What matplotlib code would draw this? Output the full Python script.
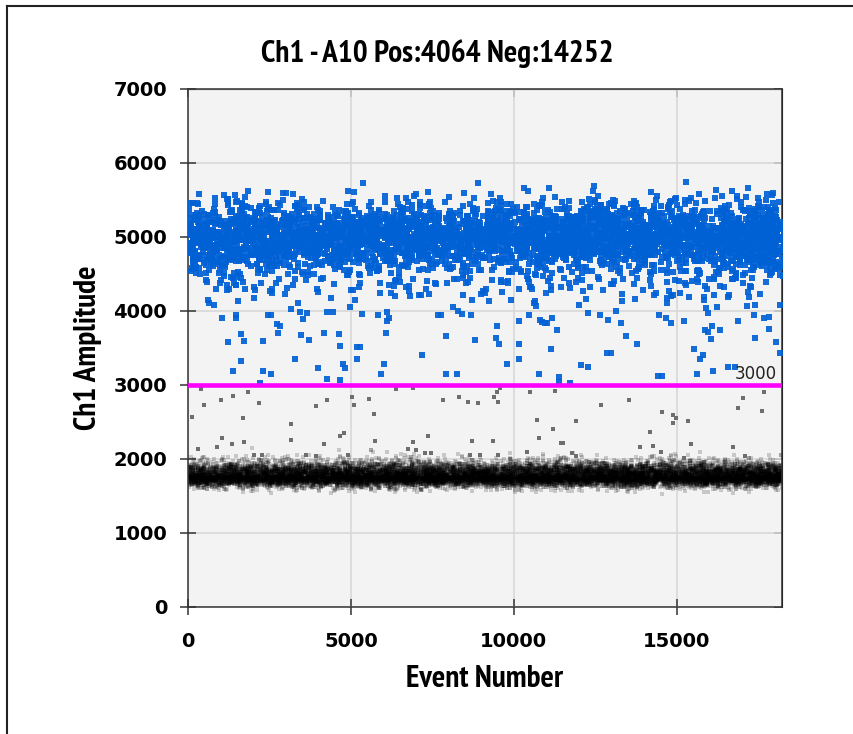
import numpy as np
import matplotlib
matplotlib.use('Agg')
import matplotlib.pyplot as plt
from matplotlib.lines import Line2D
from matplotlib import font_manager

title = 'Ch1 - A10 Pos:4064 Neg:14252'
n_pos = 4064
n_neg = 14252
threshold = 3000
n_events = n_pos + n_neg

x_ticks = [0, 5000, 10000, 15000]
y_ticks = [0, 1000, 2000, 3000, 4000, 5000, 6000, 7000]

# rain droplets
blue_rain_event = [1052, 1472, 1472, 2464, 2546, 3436, 3538, 3641, 4254, 4438, 5328, 5838,
                   6114, 6114, 6166, 7679, 7761, 8395, 8671, 2720, 2822, 2771, 1616, 1237,
                   1708, 2310, 3466, 3702, 4172, 4632, 4673, 5184, 5266, 6064, 7188, 7924,
                   8804, 1616, 3282, 5184, 6022, 4765, 4816, 1391, 2310, 2546, 3988, 5930,
                   7924, 8252, 2219, 4264, 4673,
                   10470, 12280, 12659, 14469, 14663, 14837, 15961, 17372, 17679, 17822,
                   9488, 10144, 10798, 10869, 10951, 11012, 11176, 11310, 12894, 13303,
                   15215, 15868, 15951, 16095, 16329, 16881, 17822, 9448, 9550, 10144,
                   11126, 13446, 13783, 15531, 16043, 17393, 18037, 18169, 9785, 10144,
                   12874, 12986, 15715, 15818, 12055, 12290, 16104, 16585, 16779, 10757,
                   11390, 11381, 11727, 14438, 14561, 15623]
blue_rain_amp = [3906, 3946, 3901, 3950, 3950, 3982, 3888, 3969, 3991, 3982, 3960, 3946,
                 3982, 3865, 3901, 3946, 3946, 3960, 3946, 3824, 3797, 3698, 3685, 3577,
                 3595, 3595, 3680, 3612, 3698, 3685, 3532, 3514, 3514, 3698, 3410, 3658,
                 3612, 3329, 3351, 3351, 3288, 3288, 3230, 3185, 3185, 3145, 3226, 3145,
                 3145, 3145, 3027, 3081, 3063,
                 3946, 3969, 3946, 3946, 3901, 3842, 3969, 3946, 3901, 3924,
                 3802, 3861, 3879, 3856, 3842, 3842, 3901, 3739, 3879, 3842,
                 3861, 3739, 3721, 3802, 3739, 3861, 3761, 3640, 3554, 3554,
                 3491, 3658, 3554, 3491, 3617, 3635, 3577, 3433, 3288, 3347,
                 3433, 3433, 3347, 3410, 3266, 3248, 3189, 3248, 3248, 3145,
                 3104, 3041, 3032, 3122, 3122, 3145]
grey_rain_event = [399, 501, 1012, 1391, 1851, 2178, 112, 1698, 3149, 3149, 1053, 1340,
                   1708, 879, 317, 3937, 4264, 4172, 4673, 4775, 5041, 5103, 5552, 5695,
                   5736, 6391, 6902, 7832, 8303, 8579, 8906, 7372, 6902, 6759, 6994, 7270,
                   7454, 8712, 8661, 8947, 2034, 2260, 3610, 3937, 4918,
                   9396, 9488, 9519, 9580, 10481, 11268, 12669, 13538, 14549, 14887, 14979,
                   14898, 15358, 17046, 16881, 17669, 17628, 10715, 11217, 11923, 9365,
                   10757, 11452, 11513, 14193, 14285, 13865, 15451, 9499, 10389, 11770,
                   11923, 14519, 15215, 16739, 17086]
grey_rain_amp = [2942, 2734, 2797, 2856, 2901, 2757, 2572, 2550, 2469, 2261, 2284, 2207,
                 2225, 2162, 2135, 2716, 2797, 2207, 2306, 2347, 2838, 2734, 2815, 2612,
                 2243, 2942, 2960, 2797, 2838, 2775, 2757, 2306, 2225, 2140, 2122, 2081,
                 2081, 2243, 2058, 2058, 2058, 2058, 2058, 2041, 2058,
                 2838, 2901, 2775, 2960, 2901, 2919, 2734, 2797, 2631, 2595, 2550,
                 2491, 2509, 2820, 2694, 2901, 2653, 2531, 2405, 2509, 2243,
                 2284, 2220, 2220, 2365, 2180, 2162, 2203, 2058, 2099, 2081,
                 2041, 2099, 2018, 2162, 2041]

# dense bands: centre / spread. The single droplets there
# cannot be read, so these two clouds are filled with seeded scatter.
pos_center, pos_spread = 5020, 225
pos_tail_center, pos_tail_spread = 4500, 250
pos_tail_share = 0.09
neg_center, neg_spread_low, neg_spread_high = 1760, 65, 100

rng = np.random.default_rng(7)
n_pos_band = n_pos - len(blue_rain_amp)
n_tail = int(n_pos_band * pos_tail_share)
core = rng.normal(pos_center, pos_spread, n_pos_band - n_tail)
tail = rng.normal(pos_tail_center, pos_tail_spread, n_tail * 4)
tail = tail[tail > 4000][:n_tail]
pos_amp = np.concatenate([core, tail, blue_rain_amp])
pos_event = np.concatenate([rng.uniform(0, n_events, len(core) + len(tail)), blue_rain_event])

n_neg_band = n_neg - len(grey_rain_amp)
z = rng.normal(0, 1, n_neg_band)
band_amp = neg_center + np.where(z > 0, z * neg_spread_high, z * neg_spread_low)
band_event = rng.uniform(0, n_events, n_neg_band)


def narrow_bold():
    # look for a condensed bold face among installed fonts
    found = {}
    for f in font_manager.fontManager.ttflist:
        key = (f.name + ' ' + f.fname).lower()
        if 'bold' in key and 'oblique' not in key and 'italic' not in key:
            if 'narrow' in key:
                found.setdefault(0, f.fname)
            elif 'condensed' in key:
                found.setdefault(1, f.fname)
    if found:
        return font_manager.FontProperties(fname=found[min(found)])
    return font_manager.FontProperties(family='DejaVu Sans', weight='bold')


fp = narrow_bold()

fig = plt.figure(figsize=(8.54, 7.34), dpi=100)
ax = fig.add_axes([188 / 854, 1 - 607 / 734, 594 / 854, 518 / 734])
ax.set_facecolor('#f3f3f3')

ax.scatter(band_event, band_amp, s=9, marker='s', color='black', alpha=0.18, linewidths=0, zorder=2)
ax.scatter(grey_rain_event, grey_rain_amp, s=11, marker='s', color='#6e6e6e', linewidths=0, zorder=2)
ax.scatter(pos_event, pos_amp, s=13, marker='s', color='#0061d5', alpha=0.92, linewidths=0, zorder=3)
ax.axhline(threshold, color='#ff00ff', lw=3.3, zorder=4)
ax.annotate(str(threshold), xy=(1, threshold), xycoords=ax.get_yaxis_transform(),
            xytext=(-4, 1.5), textcoords='offset points', ha='right', va='bottom',
            fontsize=12, color='#222222', zorder=5)

ax.set_xlim(0, 18230)
ax.set_ylim(0, 7000)
ax.set_xticks(x_ticks)
ax.set_yticks(y_ticks)
ax.grid(True, color='#d8d8d8', lw=1.2, zorder=0)
ax.set_axisbelow(True)
ax.tick_params(direction='inout', length=12, width=1.1, color='#333333', pad=9,
               labelsize=14)
ax.tick_params(axis='x', pad=12)
for lab in ax.get_xticklabels() + ax.get_yticklabels():
    lab.set_fontweight('bold')
for sp in ax.spines.values():
    sp.set_color('#333333')
    sp.set_linewidth(1.1)

top = ax.secondary_xaxis('top')
top.set_xticks(x_ticks)
top.tick_params(direction='in', length=6, width=1.1, color='#333333', labeltop=False)
right = ax.secondary_yaxis('right')
right.set_yticks(y_ticks)
right.tick_params(direction='in', length=6, width=1.1, color='#333333', labelright=False)

lab_fp = fp.copy()
lab_fp.set_size(22.5)
ax.set_xlabel('Event Number', fontproperties=lab_fp, labelpad=10)
ax.set_ylabel('Ch1 Amplitude', fontproperties=lab_fp, labelpad=8)
fig.text(437 / 854, 1 - 62 / 734, title, fontproperties=lab_fp, ha='center', va='baseline')

# outer frame of the exported panel
fig.add_artist(Line2D([7 / 854, 7 / 854], [0, 1 - 6 / 734], color='#222222', lw=1.5))
fig.add_artist(Line2D([7 / 854, 1], [1 - 6 / 734, 1 - 6 / 734], color='#222222', lw=1.5))

fig.savefig('out.png', dpi=100, facecolor='white')
